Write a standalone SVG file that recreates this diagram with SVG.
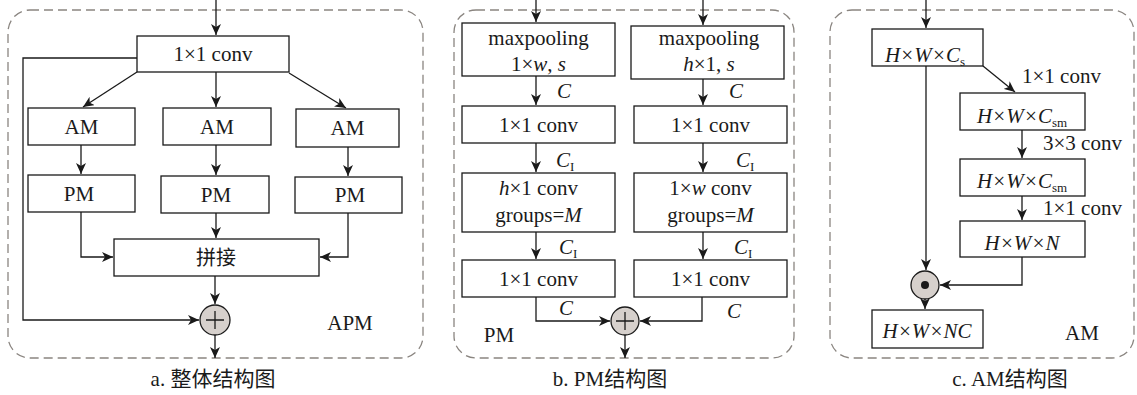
<svg xmlns="http://www.w3.org/2000/svg" width="1137" height="395" viewBox="0 0 1137 395">
  <defs>
    <marker id="arrow" markerUnits="userSpaceOnUse" markerWidth="12" markerHeight="10" refX="11" refY="5" orient="auto">
      <path d="M0,0 L11,5 L0,10 L3,5 z" fill="#1a1a1a"/>
    </marker>
    <style>
      .frame { fill: none; stroke: #8a8580; stroke-width: 1.3; stroke-dasharray: 9 5; }
      .box { fill: #fff; stroke: #1a1a1a; stroke-width: 1.3; }
      .line { fill: none; stroke: #1a1a1a; stroke-width: 1.3; }
      .arr { fill: none; stroke: #1a1a1a; stroke-width: 1.3; marker-end: url(#arrow); }
      .op { fill: #d6d0cc; stroke: #1a1a1a; stroke-width: 1.3; }
      .t { font-family: "Liberation Serif", "Times New Roman", serif; font-size: 21px; fill: #1a1a1a; }
      .c { text-anchor: middle; }
      .i { font-style: italic; }
      .cap { font-family: "Liberation Serif", "Noto Sans CJK SC", serif; font-size: 21px; fill: #1a1a1a; text-anchor: middle; }
      .cjk { font-family: "Noto Sans CJK SC", sans-serif; font-size: 20px; fill: #1a1a1a; text-anchor: middle; }
    </style>
  </defs>

  <!-- panel frames -->
  <rect class="frame" x="8" y="10" width="415" height="348" rx="22"/>
  <rect class="frame" x="454" y="10" width="340" height="348" rx="22"/>
  <rect class="frame" x="830" y="10" width="304" height="348" rx="22"/>

  <!-- ===== a: APM ===== -->
  <g id="a-conv"><rect class="box" x="137" y="36" width="152" height="36"/><text class="t c" x="213" y="61">1×1 conv</text></g>
  <g id="a-am1"><rect class="box" x="28" y="108" width="107" height="37"/><text class="t c" x="81.5" y="134">AM</text></g>
  <g id="a-am2"><rect class="box" x="163" y="108" width="108" height="37"/><text class="t c" x="217" y="134">AM</text></g>
  <g id="a-am3"><rect class="box" x="296" y="109" width="103" height="38"/><text class="t c" x="347.5" y="135">AM</text></g>
  <g id="a-pm1"><rect class="box" x="28" y="175" width="107" height="37"/><text class="t c" x="79" y="201">PM</text></g>
  <g id="a-pm2"><rect class="box" x="161" y="176" width="108" height="37"/><text class="t c" x="216" y="202">PM</text></g>
  <g id="a-pm3"><rect class="box" x="295" y="177" width="107" height="36"/><text class="t c" x="350" y="202">PM</text></g>
  <g id="a-concat"><rect class="box" x="114" y="239" width="205" height="37"/><text class="cjk" x="216" y="265">拼接</text></g>
  <g id="a-add"><circle class="op" cx="215" cy="320" r="15"/><path class="line" d="M206,320 H224 M215,311 V329"/></g>
  <g id="a-label"><text class="t c" x="350" y="330">APM</text></g>

  <!-- ===== b: PM ===== -->
  <g id="b-pool-w"><rect class="box" x="462" y="23" width="153" height="53"/><text class="t c" x="538.5" y="45">maxpooling</text><text class="t c" x="538.5" y="71">1×<tspan class="i">w</tspan>, <tspan class="i">s</tspan></text></g>
  <g id="b-pool-h"><rect class="box" x="631" y="26" width="153" height="53"/><text class="t c" x="709" y="45">maxpooling</text><text class="t c" x="709" y="71"><tspan class="i">h</tspan>×1, <tspan class="i">s</tspan></text></g>
  <g id="b-conv1-l"><rect class="box" x="462" y="106" width="153" height="37"/><text class="t c" x="538.5" y="132">1×1 conv</text></g>
  <g id="b-conv1-r"><rect class="box" x="634" y="106" width="153" height="37"/><text class="t c" x="710.5" y="132">1×1 conv</text></g>
  <g id="b-gconv-l"><rect class="box" x="462" y="173" width="153" height="59"/><text class="t c" x="538.5" y="195"><tspan class="i">h</tspan>×1 conv</text><text class="t c" x="538.5" y="222">groups=<tspan class="i">M</tspan></text></g>
  <g id="b-gconv-r"><rect class="box" x="634" y="173" width="153" height="59"/><text class="t c" x="710.5" y="195">1×<tspan class="i">w</tspan> conv</text><text class="t c" x="710.5" y="222">groups=<tspan class="i">M</tspan></text></g>
  <g id="b-conv2-l"><rect class="box" x="462" y="260" width="153" height="37"/><text class="t c" x="538.5" y="286">1×1 conv</text></g>
  <g id="b-conv2-r"><rect class="box" x="634" y="260" width="153" height="37"/><text class="t c" x="710.5" y="286">1×1 conv</text></g>
  <g id="b-add"><circle class="op" cx="625" cy="321" r="14"/><path class="line" d="M616,321 H634 M625,312 V330"/></g>
  <g id="b-label"><text class="t c" x="499" y="342">PM</text></g>

  <!-- ===== c: AM ===== -->
  <g id="c-in"><rect class="box" x="872" y="29" width="111" height="37"/><text class="t c i" x="925" y="62">H×W×C<tspan font-size="13" font-style="normal" dy="4">s</tspan></text></g>
  <g id="c-sm1"><rect class="box" x="960" y="93" width="125" height="37"/><text class="t c i" x="1022" y="123">H×W×C<tspan font-size="13" font-style="normal" dy="4">sm</tspan></text></g>
  <g id="c-sm2"><rect class="box" x="960" y="159" width="125" height="37"/><text class="t c i" x="1022" y="188">H×W×C<tspan font-size="13" font-style="normal" dy="4">sm</tspan></text></g>
  <g id="c-n"><rect class="box" x="960" y="221" width="125" height="36"/><text class="t c i" x="1022" y="250">H×W×N</text></g>
  <g id="c-mul"><circle class="op" cx="925" cy="285" r="14"/><circle cx="925" cy="285" r="4" fill="#1a1a1a"/></g>
  <g id="c-out"><rect class="box" x="872" y="310" width="111" height="38"/><text class="t c i" x="927" y="338">H×W×NC</text></g>
  <g id="c-label"><text class="t" x="1065" y="340">AM</text></g>

  <!-- connectors -->
  <g id="connectors">
    <!-- a -->
    <path class="arr" d="M216,0 V35"/>
    <path class="arr" d="M137,72 L83,107"/>
    <path class="arr" d="M216,72 V107"/>
    <path class="arr" d="M289,73 L346,108"/>
    <path class="arr" d="M81,145 V174"/>
    <path class="arr" d="M216,145 V175"/>
    <path class="arr" d="M348,147 V176"/>
    <path class="arr" d="M81,212 V257 H113"/>
    <path class="arr" d="M216,213 V238"/>
    <path class="arr" d="M348,213 V257 H320"/>
    <path class="arr" d="M215,276 V304"/>
    <path class="arr" d="M137,58 H23 V320 H199"/>
    <path class="arr" d="M215,335 V358"/>
    <!-- b -->
    <path class="arr" d="M536,0 V22"/>
    <path class="arr" d="M703,0 V25"/>
    <path class="arr" d="M536,76 V105"/>
    <path class="arr" d="M703,79 V105"/>
    <path class="arr" d="M536,143 V172"/>
    <path class="arr" d="M703,143 V172"/>
    <path class="arr" d="M536,232 V259"/>
    <path class="arr" d="M703,232 V259"/>
    <path class="arr" d="M536,297 V321 H610"/>
    <path class="arr" d="M702,297 V321 H640"/>
    <path class="arr" d="M625,335 V358"/>
    <!-- c -->
    <path class="arr" d="M926,0 V28"/>
    <path class="arr" d="M983,66 L1015,92"/>
    <path class="arr" d="M1022,130 V158"/>
    <path class="arr" d="M1022,196 V220"/>
    <path class="arr" d="M926,66 V270"/>
    <path class="arr" d="M1022,257 V285 H940"/>
    <path class="arr" d="M925,299 V309"/>
  </g>

  <!-- edge labels -->
  <g id="edge-labels">
    <text class="t i" x="557" y="98">C</text>
    <text class="t i" x="729" y="98">C</text>
    <text class="t i" x="556" y="167">C<tspan font-size="13" font-style="normal" dy="4">I</tspan></text>
    <text class="t i" x="736" y="167">C<tspan font-size="13" font-style="normal" dy="4">I</tspan></text>
    <text class="t i" x="559" y="254">C<tspan font-size="13" font-style="normal" dy="4">I</tspan></text>
    <text class="t i" x="734" y="254">C<tspan font-size="13" font-style="normal" dy="4">I</tspan></text>
    <text class="t i" x="559" y="315">C</text>
    <text class="t i" x="727" y="318">C</text>
    <text class="t" x="1022" y="83">1×1 conv</text>
    <text class="t" x="1043" y="150">3×3 conv</text>
    <text class="t" x="1043" y="215">1×1 conv</text>
  </g>

  <!-- captions -->
  <g id="captions">
    <text class="cap" x="213" y="386">a. 整体结构图</text>
    <text class="cap" x="610" y="386">b. PM结构图</text>
    <text class="cap" x="1010" y="386">c. AM结构图</text>
  </g>
</svg>
